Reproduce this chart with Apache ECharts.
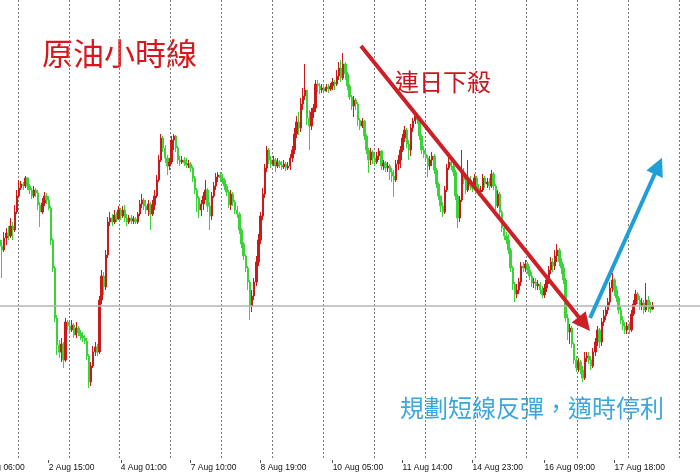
<!DOCTYPE html>
<html>
<head>
<meta charset="utf-8">
<script src="https://cdn.jsdelivr.net/npm/echarts@6/dist/echarts.min.js"></script>
<style>
html,body{margin:0;padding:0;background:#ffffff;}
#chart{width:700px;height:473px;}
</style>
</head>
<body>
<div id="chart"></div>
<script>
// ---------- data (hourly WTI crude candles) ----------
const firstCategory = [2017, 7, 1, 1];        // 1 Aug 01:00 (hourly bars, weekends skipped)
const categoryCount = 360;
const firstBar = '1 Aug 16:00';               // first candle in view
const tickLabels = ['1 Aug 06:00','2 Aug 15:00','4 Aug 01:00','7 Aug 10:00','8 Aug 19:00',
  '10 Aug 05:00','11 Aug 14:00','14 Aug 23:00','16 Aug 09:00','17 Aug 18:00'];

const opens = [
48.10,48.04,48.00,48.12,48.17,48.14,48.24,48.20,48.38,48.54,
48.62,48.66,48.64,48.72,48.64,48.60,48.54,48.60,48.57,48.45,
48.38,48.47,48.54,48.50,48.42,48.10,47.82,47.32,47.05,46.98,
47.06,46.90,47.28,47.24,47.20,47.25,47.15,47.22,47.17,47.14,
47.12,47.09,46.94,46.68,46.84,46.98,47.03,46.98,47.50,47.74,
47.63,47.95,48.28,48.32,48.28,48.35,48.31,48.40,48.34,48.40,
48.32,48.28,48.32,48.29,48.31,48.28,48.36,48.46,48.50,48.44,
48.40,48.46,48.36,48.45,48.54,48.70,48.90,49.12,49.02,48.92,
48.84,48.88,49.10,49.14,49.02,48.90,48.88,48.90,48.87,48.85,
48.86,48.82,48.72,48.60,48.52,48.40,48.46,48.54,48.60,48.44,
48.34,48.54,48.64,48.73,48.75,48.72,48.70,48.64,48.58,48.45,
48.56,48.48,48.40,48.36,48.20,48.06,47.94,47.82,47.68,47.44,
47.54,47.68,47.88,48.10,48.34,48.56,48.82,49.00,48.90,48.86,
48.90,48.84,48.88,48.85,48.83,48.86,48.82,48.84,48.92,49.00,
49.16,49.28,49.22,49.46,49.54,49.60,49.32,49.24,49.38,49.42,
49.66,49.64,49.60,49.62,49.59,49.63,49.61,49.64,49.68,49.66,
49.74,49.82,49.72,49.86,49.76,49.64,49.53,49.44,49.50,49.46,
49.30,49.24,49.29,49.14,49.00,48.90,48.98,48.92,48.88,48.94,
48.99,48.84,48.87,48.82,48.84,48.78,48.74,48.70,48.86,48.90,
49.00,49.12,49.20,49.06,49.00,49.22,49.29,49.34,49.30,49.14,
49.00,48.96,48.92,48.84,48.90,48.94,48.80,48.66,48.54,48.44,
48.38,48.60,48.82,48.88,48.84,48.78,48.54,48.32,48.50,48.78,
48.70,48.60,48.70,48.64,48.62,48.72,48.62,48.58,48.60,48.72,
48.66,48.68,48.64,48.76,48.64,48.44,48.56,48.38,48.22,48.14,
48.10,48.00,47.82,47.66,47.56,47.60,47.68,47.84,47.82,47.86,
47.80,47.74,47.67,47.68,47.64,47.66,47.60,47.55,47.62,47.70,
47.80,47.88,47.84,47.94,48.00,47.88,47.82,47.70,47.32,47.18,
47.22,47.06,46.90,46.82,46.88,46.80,46.72,46.92,46.94,46.90,
46.84,46.98,47.08,47.20,47.08,47.28,47.34,47.40,47.48,47.62,
47.70,47.60,47.52,47.40,47.30,47.24,47.20,47.24,47.20,47.36,
47.46,47.56,47.50,47.44,47.47,47.40,47.50,47.44,47.41];

const closes = [
48.04,48.00,48.12,48.17,48.14,48.24,48.20,48.38,48.54,48.62,
48.66,48.64,48.72,48.64,48.60,48.54,48.60,48.57,48.45,48.38,
48.47,48.54,48.50,48.42,48.10,47.82,47.32,47.05,46.98,47.06,
46.90,47.28,47.24,47.20,47.25,47.15,47.22,47.17,47.14,47.12,
47.09,46.94,46.68,46.84,46.98,47.03,46.98,47.50,47.74,47.63,
47.95,48.28,48.32,48.28,48.35,48.31,48.40,48.34,48.40,48.32,
48.28,48.32,48.29,48.31,48.28,48.36,48.46,48.50,48.44,48.40,
48.46,48.36,48.45,48.54,48.70,48.90,49.12,49.02,48.92,48.84,
48.88,49.10,49.14,49.02,48.90,48.88,48.90,48.87,48.85,48.86,
48.82,48.72,48.60,48.52,48.40,48.46,48.54,48.60,48.44,48.34,
48.54,48.64,48.73,48.75,48.72,48.70,48.64,48.58,48.45,48.56,
48.48,48.40,48.36,48.20,48.06,47.94,47.82,47.68,47.44,47.54,
47.68,47.88,48.10,48.34,48.56,48.82,49.00,48.90,48.86,48.90,
48.84,48.88,48.85,48.83,48.86,48.82,48.84,48.92,49.00,49.16,
49.28,49.22,49.46,49.54,49.60,49.32,49.24,49.38,49.42,49.66,
49.64,49.60,49.62,49.59,49.63,49.61,49.64,49.68,49.66,49.74,
49.82,49.72,49.86,49.76,49.64,49.53,49.44,49.50,49.46,49.30,
49.24,49.29,49.14,49.00,48.90,48.98,48.92,48.88,48.94,48.99,
48.84,48.87,48.82,48.84,48.78,48.74,48.70,48.86,48.90,49.00,
49.12,49.20,49.06,49.00,49.22,49.29,49.34,49.30,49.14,49.00,
48.96,48.92,48.84,48.90,48.94,48.80,48.66,48.54,48.44,48.38,
48.60,48.82,48.88,48.84,48.78,48.54,48.32,48.50,48.78,48.70,
48.60,48.70,48.64,48.62,48.72,48.62,48.58,48.60,48.72,48.66,
48.68,48.64,48.76,48.64,48.44,48.56,48.38,48.22,48.14,48.10,
48.00,47.82,47.66,47.56,47.60,47.68,47.84,47.82,47.86,47.80,
47.74,47.67,47.68,47.64,47.66,47.60,47.55,47.62,47.70,47.80,
47.88,47.84,47.94,48.00,47.88,47.82,47.70,47.32,47.18,47.22,
47.06,46.90,46.82,46.88,46.80,46.72,46.92,46.94,46.90,46.84,
46.98,47.08,47.20,47.08,47.28,47.34,47.40,47.48,47.62,47.70,
47.60,47.52,47.40,47.30,47.24,47.20,47.24,47.20,47.36,47.46,
47.56,47.50,47.44,47.47,47.40,47.50,47.44,47.41,47.44];

const highs = [
48.14,48.10,48.18,48.22,48.24,48.32,48.28,48.45,48.60,48.70,
48.69,48.68,48.74,48.73,48.66,48.62,48.64,48.62,48.60,48.48,
48.52,48.58,48.57,48.54,48.44,48.12,47.84,47.35,47.10,47.12,
47.08,47.32,47.30,47.28,47.30,47.27,47.28,47.24,47.20,47.18,
47.15,47.12,46.96,46.88,47.04,47.08,47.06,47.54,47.80,47.78,
48.00,48.33,48.38,48.36,48.40,48.38,48.44,48.42,48.44,48.45,
48.36,48.35,48.35,48.34,48.33,48.38,48.50,48.56,48.52,48.50,
48.50,48.48,48.50,48.60,48.75,48.95,49.16,49.14,49.05,48.95,
48.92,49.14,49.16,49.15,49.04,48.94,48.94,48.93,48.92,48.90,
48.88,48.84,48.74,48.62,48.54,48.50,48.58,48.70,48.62,48.48,
48.58,48.68,48.77,48.78,48.78,48.76,48.72,48.66,48.60,48.60,
48.58,48.50,48.44,48.38,48.22,48.08,47.96,47.84,47.70,47.60,
47.72,47.94,48.16,48.38,48.62,48.86,49.04,49.02,48.94,48.94,
48.92,48.92,48.90,48.89,48.90,48.88,48.88,48.96,49.04,49.22,
49.34,49.38,49.52,49.62,49.86,49.58,49.40,49.42,49.46,49.70,
49.70,49.67,49.66,49.65,49.66,49.66,49.67,49.72,49.70,49.80,
49.88,49.90,49.97,49.88,49.78,49.66,49.55,49.54,49.52,49.48,
49.32,49.32,49.30,49.16,49.02,49.02,49.00,48.96,48.98,49.02,
49.00,48.90,48.89,48.88,48.86,48.82,48.80,48.90,48.95,49.04,
49.16,49.24,49.22,49.10,49.26,49.32,49.37,49.36,49.32,49.16,
49.04,49.00,48.95,48.94,48.98,48.96,48.82,48.68,48.54,48.48,
48.64,48.86,48.93,48.92,48.88,48.80,48.56,48.54,49.00,48.82,
48.74,48.90,48.74,48.68,48.76,48.74,48.66,48.64,48.76,48.74,
48.72,48.72,48.80,48.78,48.66,48.60,48.58,48.40,48.24,48.18,
48.16,48.02,47.84,47.68,47.66,47.72,47.88,47.88,47.90,47.88,
47.84,47.78,47.72,47.72,47.70,47.68,47.64,47.66,47.74,47.84,
47.93,47.92,48.00,48.06,48.02,47.92,47.86,47.72,47.36,47.26,
47.24,47.08,46.94,46.92,46.90,46.84,46.98,46.98,46.98,46.94,
47.02,47.12,47.24,47.22,47.32,47.40,47.44,47.52,47.68,47.77,
47.72,47.64,47.54,47.44,47.34,47.28,47.28,47.28,47.40,47.50,
47.60,47.58,47.54,47.52,47.50,47.67,47.54,47.48,47.48];

const lows = [
47.98,47.72,47.98,48.05,48.10,48.12,48.10,48.18,48.36,48.52,
48.60,48.60,48.62,48.60,48.56,48.51,48.52,48.53,48.40,48.23,
48.36,48.44,48.46,48.40,48.05,47.78,47.28,46.95,46.92,46.88,
46.82,46.88,47.20,47.16,47.18,47.12,47.12,47.14,47.10,47.08,
47.06,46.90,46.62,46.64,46.82,46.94,46.94,46.96,47.46,47.55,
47.60,47.92,48.24,48.24,48.26,48.28,48.30,48.30,48.32,48.28,
48.24,48.26,48.26,48.26,48.26,48.26,48.34,48.42,48.40,48.36,
48.34,48.20,48.34,48.40,48.52,48.68,48.88,48.98,48.87,48.75,
48.80,48.86,49.00,48.98,48.86,48.84,48.86,48.84,48.82,48.82,
48.78,48.68,48.56,48.38,48.32,48.34,48.40,48.50,48.38,48.20,
48.30,48.52,48.60,48.68,48.68,48.66,48.60,48.54,48.42,48.40,
48.44,48.36,48.32,48.16,48.02,47.90,47.78,47.60,47.30,47.38,
47.50,47.64,47.84,48.06,48.30,48.52,48.78,48.86,48.82,48.84,
48.78,48.82,48.82,48.80,48.81,48.79,48.80,48.80,48.88,48.96,
49.12,49.15,49.18,49.40,49.50,49.25,49.00,49.20,49.32,49.38,
49.58,49.56,49.57,49.56,49.58,49.57,49.59,49.60,49.60,49.64,
49.70,49.68,49.70,49.70,49.60,49.50,49.40,49.33,49.40,49.24,
49.20,49.22,49.10,48.96,48.77,48.85,48.86,48.84,48.86,48.90,
48.80,48.80,48.78,48.78,48.70,48.68,48.53,48.68,48.80,48.82,
48.98,49.08,49.02,48.90,48.94,49.18,49.26,49.26,49.10,48.96,
48.92,48.88,48.73,48.80,48.84,48.76,48.62,48.50,48.38,48.33,
48.36,48.58,48.80,48.80,48.74,48.50,48.22,48.28,48.48,48.66,
48.56,48.58,48.60,48.58,48.60,48.58,48.54,48.55,48.58,48.62,
48.62,48.60,48.62,48.60,48.40,48.42,48.34,48.18,48.10,48.06,
47.96,47.78,47.60,47.48,47.52,47.56,47.64,47.78,47.78,47.76,
47.70,47.63,47.62,47.60,47.60,47.56,47.52,47.52,47.58,47.66,
47.76,47.78,47.80,47.88,47.84,47.76,47.66,47.28,47.10,47.06,
47.02,46.86,46.78,46.78,46.76,46.68,46.70,46.88,46.86,46.80,
46.82,46.94,47.04,47.02,47.04,47.24,47.30,47.36,47.44,47.58,
47.54,47.48,47.36,47.26,47.20,47.16,47.16,47.16,47.18,47.34,
47.44,47.46,47.40,47.40,47.36,47.38,47.38,47.37,47.40];

// annotations: [barPosition, price] pairs (bar position on the hourly scale)
const titleText = '原油小時線';
const downText = '連日下殺';
const planText = '規劃短線反彈，適時停利';
const downArrow = [[185.9, 50.04], [291.3, 47.26]];
const upArrow   = [[294.0, 47.32], [326.2, 48.84]];

// ---------- build categories ----------
const MON = ['Jan','Feb','Mar','Apr','May','Jun','Jul','Aug','Sep','Oct','Nov','Dec'];
const categories = [];
let t = Date.UTC(firstCategory[0], firstCategory[1], firstCategory[2], firstCategory[3]);
while (categories.length < categoryCount) {
  const d = new Date(t);
  const wd = d.getUTCDay();
  if (wd !== 0 && wd !== 6) {
    const hh = String(d.getUTCHours()).padStart(2, '0');
    categories.push(d.getUTCDate() + ' ' + MON[d.getUTCMonth()] + ' ' + hh + ':00');
  }
  t += 3600 * 1000;
}
const startIdx = categories.indexOf(firstBar);
const candleData = categories.map((c, k) => {
  const j = k - startIdx;
  if (j < 0 || j >= closes.length) return '-';
  const o = opens[j], cl = closes[j];
  return [o, cl, Math.min(lows[j], o, cl), Math.max(highs[j], o, cl)];
});
const lastClose = closes[closes.length - 1];
const tickSet = new Set(tickLabels);
const showTick = (idx, val) => tickSet.has(val);

const UP = '#cc1a1a', DOWN = '#3ad43a';
const chart = echarts.init(document.getElementById('chart'), null, {renderer: 'canvas'});
chart.setOption({
  animation: false,
  backgroundColor: '#ffffff',
  grid: {left: -32.85, right: -29.9, top: 0, bottom: 13, containLabel: false, outerBoundsMode: 'none'},
  xAxis: [{
    type: 'category', data: categories, boundaryGap: true,
    axisLine: {show: false},
    axisTick: {show: true, alignWithLabel: true, interval: showTick, length: 3, lineStyle: {color: '#555'}},
    axisLabel: {interval: showTick, align: 'left', margin: 3, fontSize: 8.5,
      fontFamily: '"Liberation Sans", Arial, sans-serif', color: '#111'},
    splitLine: {show: false}
  }, {
    type: 'value', min: 0, max: 360, interval: 24, position: 'bottom',
    axisLine: {show: false}, axisTick: {show: false}, axisLabel: {show: false},
    splitLine: {show: true, lineStyle: {type: [2, 2], color: '#7a7a7a', width: 1}}
  }],
  yAxis: {
    type: 'value', min: 45.90, max: 50.50, scale: true,
    axisLine: {show: false}, axisTick: {show: false}, axisLabel: {show: false}, splitLine: {show: false}
  },
  series: [{
    type: 'candlestick', xAxisIndex: 0, yAxisIndex: 0, data: candleData,
    barWidth: 1.9,
    itemStyle: {color: UP, color0: DOWN, borderColor: UP, borderColor0: DOWN, borderWidth: 1},
    markLine: {
      silent: true, symbol: 'none', label: {show: false},
      lineStyle: {color: '#b4b4b4', width: 1.5, type: 'solid'},
      data: [{yAxis: lastClose}]
    }
  }, {
    type: 'line', xAxisIndex: 1, yAxisIndex: 0, data: [],
    markLine: {
      silent: true, symbol: ['none', 'triangle'], symbolSize: 18, label: {show: false},
      data: [
        [{coord: downArrow[0], lineStyle: {color: '#cc2026', width: 4, type: 'solid'}, itemStyle: {color: '#cc2026'}},
         {coord: downArrow[1]}],
        [{coord: upArrow[0], lineStyle: {color: '#1e9fd8', width: 4, type: 'solid'}, itemStyle: {color: '#1e9fd8'}},
         {coord: upArrow[1]}]
      ]
    }
  }],
  graphic: [
    {type: 'text', style: {x: 42, y: 53, text: titleText, fill: '#d9161c',
      font: '31px "Noto Sans CJK TC", sans-serif', textVerticalAlign: 'middle'}},
    {type: 'text', style: {x: 395, y: 82, text: downText, fill: '#c8161e',
      font: '24px "Noto Sans CJK TC", sans-serif', textVerticalAlign: 'middle'}},
    {type: 'text', style: {x: 400, y: 408, text: planText, fill: '#3aa8de',
      font: '24px "Noto Sans CJK TC", sans-serif', textVerticalAlign: 'middle'}}
  ]
});
</script>
</body>
</html>
